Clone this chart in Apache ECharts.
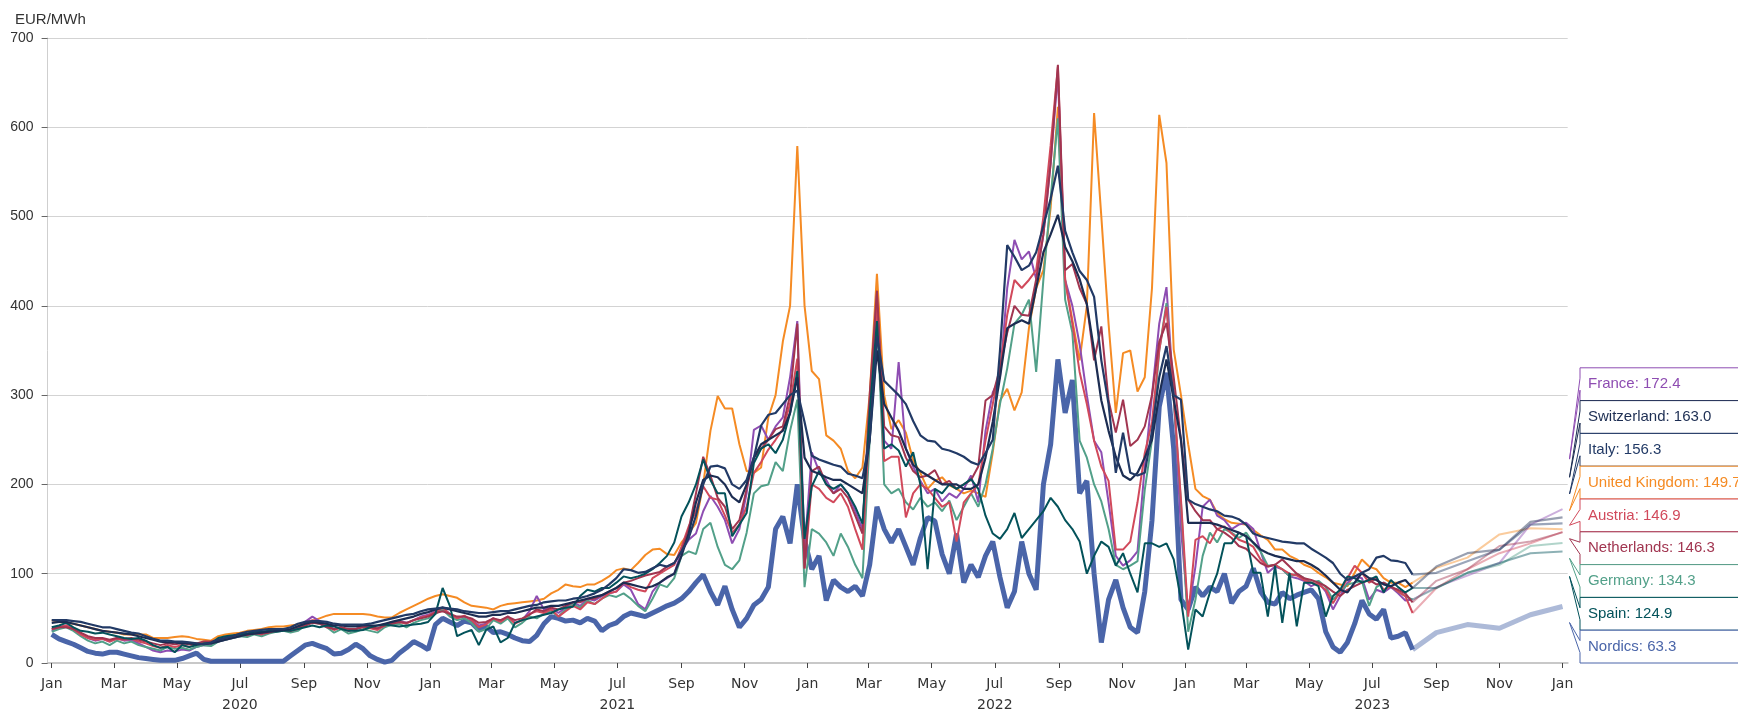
<!DOCTYPE html>
<html>
<head>
<meta charset="utf-8">
<script src="https://cdn.jsdelivr.net/npm/echarts@6/dist/echarts.min.js"></script>
<style>
  html, body { margin: 0; padding: 0; background: #fff; }
  #chart { width: 1738px; height: 712px; }
</style>
</head>
<body>
<div id="chart"></div>
<script>
// one value per week starting 2020-01-01 (2020 / 2021 / 2022 / 2023 on separate lines)
const france = [
  36,40,42,38,33,28,25,27,24,28, 25,26,22,18,14,12,14,13,15,14, 18,20,20,24,26,28,30,32,33,34, 35,37,38,37,40,46,52,47,42,38, 40,36,38,42,40,38,43,46,47,45, 48,52,54,
  58,62,55,50,52,48,42,44,50,46, 52,45,48,58,75,60,62,56,62,68, 64,72,70,75,78,80,88,82,66,60, 80,90,95,100,125,138,145,170,187,175, 160,134,150,190,261,266,250,265,275,320, 383,127,
  236,215,205,190,200,190,170,150,290,413, 249,240,337,240,220,204,190,195,181,190, 185,195,210,180,260,303,320,420,474,452, 461,430,480,560,660,429,400,357,300,249, 236,180,120,109,115,125,220,300,380,421, 300,150,
  56,108,175,183,165,160,150,155,157,150, 125,101,108,105,97,95,92,86,90,80, 60,75,90,97,95,71,82,79,85,78, 70,71
];
const switzerland = [
  45,46,46,44,42,40,38,36,35,34, 33,32,30,28,26,24,23,23,22,22, 21,21,22,24,26,28,30,32,33,34, 35,36,37,38,41,44,46,45,44,42, 42,41,41,42,42,42,44,46,48,50, 52,55,57,
  60,62,60,58,56,54,52,52,54,54, 56,56,58,60,62,62,64,64,66,68, 70,72,74,76,80,84,90,88,86,84, 86,90,96,100,120,145,180,205,210,208, 200,186,180,200,230,245,250,255,260,280, 320,230,
  215,212,208,205,205,200,195,190,250,350, 290,275,260,240,222,215,210,205,200,200, 200,195,195,200,230,270,320,375,380,384, 380,420,460,480,502,466,450,430,402,350, 294,260,231,210,205,213,230,250,300,340, 295,250,
  157,157,157,157,155,152,149,146,142,135, 127,123,120,118,116,114,114,110,105,98, 90,82,79,90,101,95,93,88,86,90, 93,84
];
const italy = [
  48,48,48,47,46,44,42,40,40,38, 36,34,33,30,27,25,25,24,24,23, 22,21,23,26,28,30,33,35,36,37, 38,38,38,40,44,46,47,47,46,44, 43,43,43,43,44,46,48,50,52,54, 55,58,60,
  61,62,61,60,58,57,56,56,57,58, 58,60,62,64,65,68,69,70,70,72, 73,75,78,82,88,95,105,104,101,102, 106,110,108,112,125,140,165,200,220,221, 218,200,195,205,230,266,278,280,290,300, 305,270,
  232,228,225,222,220,212,210,207,250,366, 316,308,300,290,271,255,249,248,240,238, 235,231,225,222,235,250,350,468,455,440, 445,460,490,520,557,484,460,439,429,410, 339,290,213,258,213,210,213,260,320,355, 300,295,
  183,178,175,172,170,165,164,161,155,145, 142,140,138,136,135,134,134,128,123,118, 112,100,93,97,101,105,118,120,115,114, 112,99
];
const uk = [
  48,46,45,44,42,40,38,36,35,34, 32,32,32,32,28,28,28,29,30,29, 27,26,25,30,32,33,34,36,37,38, 40,41,41,42,43,45,47,50,53,55, 55,55,55,55,54,52,51,51,56,60, 64,68,72,
  75,77,75,73,68,64,63,62,60,64, 66,67,68,69,70,72,78,82,88,86, 85,88,88,92,97,104,106,104,112,121, 127,128,122,121,135,145,157,200,260,299, 285,285,245,215,213,219,275,300,360,400, 579,400,
  327,318,255,249,240,215,207,219,300,436, 300,262,272,258,227,213,195,204,208,199, 195,190,193,190,186,236,294,307,283,303, 375,420,440,510,623,429,384,339,400,616, 500,380,280,347,350,304,320,420,614,560, 351,300,
  245,195,187,183,168,161,157,156,155,149, 143,138,127,127,120,116,110,107,101,96, 90,88,86,101,116,108,105,95,90,90, 85,90
];
const austria = [
  38,40,42,38,32,28,26,27,24,27, 26,27,24,22,19,17,20,18,20,18, 21,23,23,26,28,30,32,31,34,32, 35,37,38,36,39,45,48,46,42,37, 40,36,38,41,39,37,42,45,46,44, 48,51,53,
  57,62,55,50,53,48,40,43,50,46, 52,44,48,55,58,56,60,52,58,64, 60,68,66,72,78,80,90,85,82,80, 95,100,105,110,130,153,170,198,185,183, 165,146,155,175,213,225,239,250,262,290, 341,106,
  200,195,185,180,190,175,150,127,270,400, 226,231,231,163,190,200,195,185,175,180, 136,180,190,200,249,290,330,390,429,420, 429,440,500,580,668,429,380,326,290,249, 220,204,127,127,136,180,235,270,350,399, 300,183,
  52,138,142,134,150,153,145,138,135,130, 116,108,110,105,100,98,93,90,88,82, 67,80,95,109,101,90,95,82,86,80, 75,56
];
const netherlands = [
  38,40,40,38,34,30,28,28,26,28, 27,28,26,24,22,20,22,21,22,21, 22,24,24,26,28,30,31,32,33,33, 34,36,37,36,38,42,45,44,40,38, 40,38,38,40,40,39,42,44,46,45, 48,50,52,
  56,58,55,52,52,50,45,46,50,48, 52,48,50,54,60,58,62,60,64,68, 68,72,72,76,80,84,90,92,95,98, 100,102,108,112,125,150,190,231,210,185, 175,150,160,195,230,240,250,262,265,300, 380,106,
  215,220,200,190,195,185,165,145,300,417, 265,255,253,230,215,208,210,216,200,204, 195,200,205,220,294,300,330,370,400,390, 389,430,480,560,670,440,447,420,402,339, 377,294,258,295,243,250,265,300,360,381, 320,250,
  183,170,160,160,150,146,140,131,128,120, 112,108,110,116,108,100,95,93,90,86, 80,75,82,86,90,93,88,90,85,82, 78,68
];
const germany = [
  35,38,40,36,30,25,22,24,20,25, 22,24,20,18,16,14,18,16,17,15, 18,20,19,24,26,28,30,29,32,30, 33,35,36,34,36,42,46,44,40,34, 38,33,35,38,36,34,40,43,44,40, 45,48,50,
  55,60,52,48,50,45,35,38,48,44, 50,40,45,52,50,55,58,52,60,66, 62,70,66,72,76,74,78,72,64,58, 72,88,85,95,120,125,122,150,157,130, 110,105,115,146,190,198,200,225,215,260, 295,85,
  150,145,135,120,145,130,110,95,250,395, 200,190,195,180,172,185,175,180,170,182, 160,175,190,175,200,240,290,330,380,390, 407,326,430,520,610,407,370,249,230,200, 181,150,110,105,109,114,194,250,350,403, 295,180,
  35,71,120,146,135,150,146,140,146,134, 125,109,110,105,97,100,95,90,92,85, 71,80,88,90,92,64,85,90,86,80, 75,71
];
const spain = [
  40,42,45,40,36,35,33,34,32,30, 28,27,28,25,20,17,18,12,20,18, 20,22,22,28,30,31,32,33,35,35, 36,35,36,36,38,40,42,40,42,41, 38,36,36,37,40,42,43,42,41,42, 43,44,46,
  55,84,64,30,34,37,20,37,41,23, 28,45,48,50,52,54,56,60,62,63, 75,82,80,84,84,90,97,95,97,100, 105,112,120,135,164,180,200,228,205,190, 190,142,155,168,224,240,245,235,250,280, 327,139,
  198,215,200,195,200,190,175,156,280,383, 240,245,238,220,236,200,105,195,190,200, 195,200,206,195,165,145,139,150,168,140, 150,160,170,185,175,160,150,136,100,120, 136,130,109,123,100,79,134,134,130,134, 116,71,
  15,60,52,79,100,134,134,146,142,101, 101,52,109,45,101,41,90,90,86,52, 75,82,97,95,90,93,97,79,93,85, 79,84
];
const nordics = [
  32,27,24,21,17,13,11,10,12,12, 10,8,6,5,4,3,3,3,5,8, 11,4,2,2,2,2,2,2,2,2, 2,2,2,8,14,20,22,19,16,10, 11,15,21,16,8,4,1,3,11,17, 24,20,15,
  43,50,46,42,47,45,37,41,34,35, 32,28,25,24,31,44,52,50,47,48, 45,50,47,36,42,45,52,56,54,52, 56,60,64,67,72,80,90,99,80,65, 86,60,40,50,65,71,85,150,164,134, 200,138,
  105,120,70,93,85,80,86,75,110,175, 150,135,150,130,110,140,163,159,122,100, 145,90,110,96,120,136,96,62,80,136, 100,82,200,245,340,280,317,190,204,100, 23,71,93,62,40,34,80,160,287,325, 240,71,
  60,85,75,85,80,100,67,80,86,106, 80,68,66,79,72,76,79,82,72,35, 18,12,23,44,70,55,49,60,28,30, 34,15
];

// monthly forward prices
const fwdDates = ['2023-09-01', '2023-10-01', '2023-11-01', '2023-12-01', '2024-01-01'];
const franceFwd = [85, 98, 112, 155, 172.4];
const switzerlandFwd = [108, 123, 127, 158, 163.0];
const italyFwd = [101, 114, 127, 155, 156.3];
const ukFwd = [106.5, 118, 144, 151, 149.7];
const austriaFwd = [84, 105, 123, 134, 146.9];
const netherlandsFwd = [92, 105, 131, 136, 146.3];
const germanyFwd = [84, 101, 110, 131, 134.3];
const spainFwd = [84, 101, 112, 123, 124.9];
const nordicsFwd = [34, 43, 39, 54, 63.3];

const names = ['France', 'Switzerland', 'Italy', 'United Kingdom', 'Austria', 'Netherlands', 'Germany', 'Spain', 'Nordics'];
const colors = ['#8e4db2', '#1c2d52', '#223a66', '#f58b24', '#d1495b', '#a13550', '#52a089', '#03525a', '#4a65a9'];

const monthTicks = [
  '2020-01-01', '2020-03-01', '2020-05-01', '2020-07-01', '2020-09-01', '2020-11-01',
  '2021-01-01', '2021-03-01', '2021-05-01', '2021-07-01', '2021-09-01', '2021-11-01',
  '2022-01-01', '2022-03-01', '2022-05-01', '2022-07-01', '2022-09-01', '2022-11-01',
  '2023-01-01', '2023-03-01', '2023-05-01', '2023-07-01', '2023-09-01', '2023-11-01',
  '2024-01-01'
];
const yearTicks = ['2020-07-01', '2021-07-01', '2022-07-01', '2023-07-01'];
const monthNames = ['Jan', 'Feb', 'Mar', 'Apr', 'May', 'Jun', 'Jul', 'Aug', 'Sep', 'Oct', 'Nov', 'Dec'];

function ts(s) {
  const p = s.split('-').map(Number);
  return Date.UTC(p[0], p[1] - 1, p[2]);
}
const START = ts('2020-01-01');
const WEEK = 7 * 86400000;

const hist = [france, switzerland, italy, uk, austria, netherlands, germany, spain, nordics];
const fwd = [franceFwd, switzerlandFwd, italyFwd, ukFwd, austriaFwd, netherlandsFwd, germanyFwd, spainFwd, nordicsFwd];

const histData = hist.map(arr => arr.map((v, i) => [START + i * WEEK, v]));
const fwdData = fwd.map((arr, k) => {
  const last = histData[k][histData[k].length - 1];
  return [last].concat(arr.map((v, i) => [ts(fwdDates[i]), v]));
});

// order of the end labels: by last forward value, highest on top
const order = names.map((n, i) => i).sort((a, b) => fwd[b][fwd[b].length - 1] - fwd[a][fwd[a].length - 1]);
const labelData = order.map((k, rank) => {
  const end = fwdData[k][fwdData[k].length - 1];
  return [end[0], end[1], rank, k];
});

const xMin = ts('2019-12-28');
const xMax = ts('2024-01-06');
const font = 'Liberation Sans, Arial, sans-serif';

function widthOf(k) {
  if (names[k] === 'Nordics') return 5;
  if (names[k] === 'Switzerland' || names[k] === 'Italy') return 2.2;
  return 2;
}

const series = [];
const drawOrder = [8, 3, 0, 6, 4, 5, 7, 1, 2];
drawOrder.forEach(k => {
  series.push({
    name: names[k] + ' forward',
    type: 'line',
    data: fwdData[k],
    symbol: 'none',
    silent: true,
    lineStyle: { color: colors[k], width: widthOf(k), opacity: 0.45 }
  });
});
drawOrder.forEach(k => {
  series.push({
    name: names[k],
    type: 'line',
    data: histData[k],
    symbol: 'none',
    silent: true,
    lineStyle: { color: colors[k], width: widthOf(k) }
  });
});

series.push({
  type: 'custom',
  coordinateSystem: 'cartesian2d',
  clip: false,
  silent: true,
  z: 10,
  encode: { x: 0, y: 1 },
  data: labelData,
  renderItem: function (params, api) {
    const cs = params.coordSys;
    const end = api.coord([api.value(0), api.value(1)]);
    const rank = api.value(2);
    const k = api.value(3);
    const boxH = 32.8;
    const bottomAll = cs.y + cs.height;
    const top = bottomAll - (names.length - rank) * boxH;
    const bottom = top + boxH;
    const x0 = cs.x + cs.width + 12.3;
    const x1 = x0 + 400;
    const cy = top + boxH / 2;
    const tip = [x0 + 0.6 * (end[0] - x0), cy + 0.6 * (end[1] - cy)];
    const col = colors[k];
    const val = fwd[k][fwd[k].length - 1];
    return {
      type: 'group',
      children: [
        {
          type: 'polygon',
          shape: { points: [tip, [x0, cy + 6], [x0, bottom], [x1, bottom], [x1, top], [x0, top], [x0, cy - 6]] },
          style: { fill: '#fff', stroke: col, lineWidth: 1 }
        },
        {
          type: 'text',
          style: {
            text: names[k] + ': ' + val.toFixed(1),
            x: x0 + 8, y: cy,
            fill: col, fontSize: 15, fontFamily: font,
            verticalAlign: 'middle', align: 'left'
          }
        }
      ]
    };
  }
});

const option = {
  animation: false,
  title: {
    text: 'EUR/MWh',
    left: 10, top: 7,
    textStyle: { fontSize: 15, fontWeight: 'normal', color: '#333', fontFamily: font }
  },
  grid: { left: 47.6, right: 170.3, top: 38, bottom: 48.5 },
  xAxis: [
    {
      type: 'value', min: xMin, max: xMax,
      axisLine: { lineStyle: { color: '#c8c8c8', width: 2 } },
      axisTick: { show: true, customValues: monthTicks.map(ts), length: 5, lineStyle: { color: '#444' } },
      axisLabel: {
        customValues: monthTicks.map(ts),
        formatter: v => monthNames[new Date(v).getUTCMonth()],
        color: '#333', fontSize: 14, fontFamily: 'DejaVu Sans', margin: 14
      },
      splitLine: { show: false }
    },
    {
      type: 'value', min: xMin, max: xMax, position: 'bottom',
      axisLine: { show: false },
      axisTick: { show: false },
      axisLabel: {
        customValues: yearTicks.map(ts),
        formatter: v => String(new Date(v).getUTCFullYear()),
        color: '#333', fontSize: 14, fontFamily: 'DejaVu Sans', margin: 35
      },
      splitLine: { show: false }
    }
  ],
  yAxis: {
    type: 'value', min: 0, max: 700, interval: 100,
    axisLine: { show: true, lineStyle: { color: '#cfcfcf' } },
    axisTick: { show: true, length: 6, lineStyle: { color: '#666' } },
    axisLabel: { color: '#333', fontSize: 14, fontFamily: font, margin: 14 },
    splitLine: { lineStyle: { color: '#d3d3d3' } }
  },
  series: series
};

const chart = echarts.init(document.getElementById('chart'));
chart.setOption(option);
</script>
</body>
</html>
